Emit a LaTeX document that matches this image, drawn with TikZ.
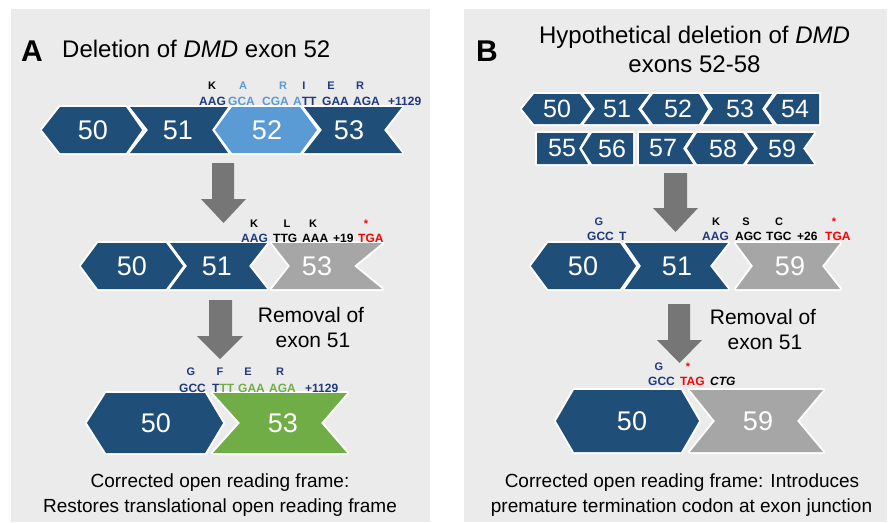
\documentclass[tikz,border=0pt]{standalone}
\usepackage{fontspec}
\setmainfont{Liberation Sans}

\definecolor{panelbg}{HTML}{EBEBEB}
\definecolor{exdark}{HTML}{1F4E79}
\definecolor{exlight}{HTML}{5B9BD5}
\definecolor{exgray}{HTML}{A6A6A6}
\definecolor{exgreen}{HTML}{70AD47}
\definecolor{arrowgray}{HTML}{767676}
\definecolor{navy}{HTML}{203A80}
\definecolor{stopred}{HTML}{FF0000}

% current exon row: vertical centre, half height, number size
\newcommand\exonrow[3]{\def\rowy{#1}\def\rowh{#2}\def\numsize{#3}}
% exon block outline, shared by the white halo and the fill
\newcommand\exonpath[4]{(#1,\rowy-\rowh) -- (#3,\rowy-\rowh) -- (#4,\rowy) -- (#3,\rowy+\rowh)
    -- (#1,\rowy+\rowh) -- (#2,\rowy) -- cycle}
% exon block: name, fill, left corner x, left middle x, right corner x, right middle x, label x, label
\newcommand\exon[8]{%
  \draw[exonhalo] \exonpath{#3}{#4}{#5}{#6};
  \fill[#2] \exonpath{#3}{#4}{#5}{#6};
  \node[exnum] (#1) at (#7,\rowy) {#8};}
% block arrow pointing down: shaft left/right, shaft top, head left/right, head top, tip x, tip y
\newcommand\blockdown[8]{%
  \fill[arrowgray] (#1,#3) -- (#2,#3) -- (#2,#6) -- (#5,#6) -- (#7,#8) -- (#4,#6) -- (#1,#6) -- cycle;}

\begin{document}
\begin{tikzpicture}[x=1pt,y=-1pt,
  exonhalo/.style={draw=white,line width=4pt,line join=round},
  exnum/.style={text=white,inner sep=0pt,font=\fontsize{\numsize}{\numsize}\selectfont},
  codon/.style={anchor=base west,inner sep=0pt,font=\bfseries\fontsize{12}{12}\selectfont},
  amino/.style={anchor=base,inner sep=0pt,font=\bfseries\fontsize{11}{11}\selectfont},
  title/.style={anchor=base west,inner sep=0pt,font=\fontsize{24}{24}\selectfont},
  panelletter/.style={anchor=base west,inner sep=0pt,font=\bfseries\fontsize{30}{30}\selectfont},
  note/.style={anchor=base,inner sep=0pt,font=\fontsize{21}{21}\selectfont},
  caption/.style={anchor=base,inner sep=0pt,font=\fontsize{19}{19}\selectfont}]

\useasboundingbox (0,0) rectangle (896,522);
\fill[white] (0,0) rectangle (896,522);

% panels
\fill[panelbg] (11,9) rectangle (430,522);
\fill[panelbg] (464,9) rectangle (887,522);

% ---------------- panel A ----------------
\node[panelletter] (A) at (21,61) {A};
\node[title] (titleA) at (62,57) {Deletion of \textit{DMD} exon 52};

% full transcript
\exonrow{130}{23}{27}
\exon{a50}{exdark}{60}{42}{126}{142}{93}{50}
\exon{a51}{exdark}{130}{148}{228}{212}{178}{51}
\exon{a52}{exlight}{232}{215}{300}{317}{267}{52}
\exon{a53}{exdark}{304}{322}{402}{384}{349}{53}

\node[amino,text=black]   (a1k)  at (212,89) {K};
\node[amino,text=exlight] (a1a)  at (243,89) {A};
\node[amino,text=exlight] (a1r)  at (283,89) {R};
\node[amino,text=navy]    (a1i)  at (304,89) {I};
\node[amino,text=navy]    (a1e)  at (331,89) {E};
\node[amino,text=navy]    (a1r2) at (360,89) {R};
\node[codon,text=navy]    (a1c1) at (199,105) {AAG};
\node[codon,text=exlight] (a1c2) at (228,105) {GCA};
\node[codon,text=exlight] (a1c3) at (262,105) {CGA};
\node[codon,text=navy]    (a1c4) at (293,105) {\textcolor{exlight}{A}TT};
\node[codon,text=navy]    (a1c5) at (322,105) {GAA};
\node[codon,text=navy]    (a1c6) at (353,105) {AGA};
\node[codon,text=navy]    (a1c7) at (388,105) {+1129};

\blockdown{212}{234}{163}{201}{246}{199}{223.5}{223}

% after deletion of exon 52
\exonrow{266}{23}{27}
\exon{b50}{exdark}{98}{81}{166}{183}{132}{50}
\exon{b51}{exdark}{170}{187}{267}{249}{217}{51}
\exon{b53}{exgray}{272}{290}{382}{354}{317}{53}

\node[amino,text=black]   (a2k)  at (254,227) {K};
\node[amino,text=black]   (a2l)  at (287,227) {L};
\node[amino,text=black]   (a2k2) at (313,227) {K};
\node[amino,text=stopred] (a2s)  at (366,227) {*};
\node[codon,text=navy]    (a2c1) at (241,242) {AAG};
\node[codon,text=black]   (a2c2) at (273,242) {TTG};
\node[codon,text=black]   (a2c3) at (302,242) {AAA};
\node[codon,text=black]   (a2c4) at (333,242) {+19};
\node[codon,text=stopred] (a2c5) at (358,242) {TGA};

\blockdown{209}{232}{300}{197}{243}{336}{220}{359}
\node[note] (remA1) at (311,322) {Removal of};
\node[note] (remA2) at (313,347) {exon 51};

% after removal of exon 51
\exonrow{423}{30}{27}
\exon{c50}{exdark}{106}{87}{205}{223}{156}{50}
\exon{c53}{exgreen}{213}{240}{347}{321}{283}{53}

\node[amino,text=navy] (a3g) at (191,375) {G};
\node[amino,text=navy] (a3f) at (220,375) {F};
\node[amino,text=navy] (a3e) at (248,375) {E};
\node[amino,text=navy] (a3r) at (280,375) {R};
\node[codon,text=navy]     (a3c1) at (179,392) {GCC};
\node[codon,text=navy]     (a3c2) at (212,392) {T\textcolor{exgreen}{TT}};
\node[codon,text=exgreen]  (a3c3) at (238,392) {GAA};
\node[codon,text=exgreen]  (a3c4) at (269,392) {AGA};
\node[codon,text=navy]     (a3c5) at (305,392) {+1129};

\node[caption] (capA1) at (220,487) {Corrected open reading frame:};
\node[caption] (capA2) at (220,512) {Restores translational open reading frame};

% ---------------- panel B ----------------
\node[panelletter] (B) at (476,61) {B};
\node[title,anchor=base] (titleB1) at (694.5,43) {Hypothetical deletion of \textit{DMD}};
\node[title,anchor=base] (titleB2) at (694.5,72) {exons 52-58};

% full transcript, two rows
\exonrow{109}{15}{25}
\exon{d50}{exdark}{534}{522}{580}{591}{557}{50}
\exon{d51}{exdark}{584}{595}{649}{638}{617}{51}
\exon{d52}{exdark}{653}{642}{699}{708}{678}{52}
\exon{d53}{exdark}{703}{713}{772}{762}{740}{53}
\exon{d54}{exdark}{777}{766}{819}{819}{795}{54}

\exonrow{148.5}{15.5}{25}
\exon{e55}{exdark}{537}{537}{588}{579}{562}{55}
\exon{e56}{exdark}{592}{582}{633}{633}{612}{56}
\exon{e57}{exdark}{639}{639}{693}{683}{663}{57}
\exon{e58}{exdark}{697}{687}{743}{754}{723}{58}
\exon{e59}{exdark}{747}{758}{814}{803}{782}{59}

\blockdown{664}{687}{173}{653}{698}{208}{675.5}{232}

% after deletion of exons 52-58
\exonrow{266}{23}{27}
\exon{f50}{exdark}{548}{531}{620}{636}{583}{50}
\exon{f51}{exdark}{625}{641}{728}{710}{677}{51}
\exon{f59}{exgray}{736}{753}{840}{822}{790}{59}

\node[amino,text=navy]    (b2g)  at (599,225) {G};
\node[amino,text=black]   (b2k)  at (716,225) {K};
\node[amino,text=black]   (b2s)  at (746,225) {S};
\node[amino,text=black]   (b2c)  at (779,225) {C};
\node[amino,text=stopred] (b2st) at (834,225) {*};
\node[codon,text=navy]    (b2c1) at (587,240) {GCC};
\node[codon,text=navy]    (b2c2) at (619,240) {T};
\node[codon,text=navy]    (b2c3) at (702,240) {AAG};
\node[codon,text=black]   (b2c4) at (735,240) {AGC};
\node[codon,text=black]   (b2c5) at (766,240) {TGC};
\node[codon,text=black]   (b2c6) at (797,240) {+26};
\node[codon,text=stopred] (b2c7) at (825,240) {TGA};

\blockdown{668}{690}{304}{657}{702}{340}{679.5}{363}
\node[note] (remB1) at (763,324) {Removal of};
\node[note] (remB2) at (765,349) {exon 51};

% after removal of exon 51
\exonrow{421}{31}{27}
\exon{g50}{exdark}{574}{556}{681}{699}{632}{50}
\exon{g59}{exgray}{690}{715}{823}{797}{758}{59}

\node[amino,text=navy]    (b3g)  at (659,370) {G};
\node[amino,text=stopred] (b3st) at (688,370) {*};
\node[codon,text=navy]    (b3c1) at (648,385) {GCC};
\node[codon,text=stopred] (b3c2) at (680,385) {TAG};
\node[codon,text=black]   (b3c3) at (710,385) {\itshape CTG};

\node[caption] (capB1) at (682,487) {Corrected open reading frame: Introduces};
\node[caption] (capB2) at (681.5,512) {premature termination codon at exon junction};
\end{tikzpicture}
\end{document}
